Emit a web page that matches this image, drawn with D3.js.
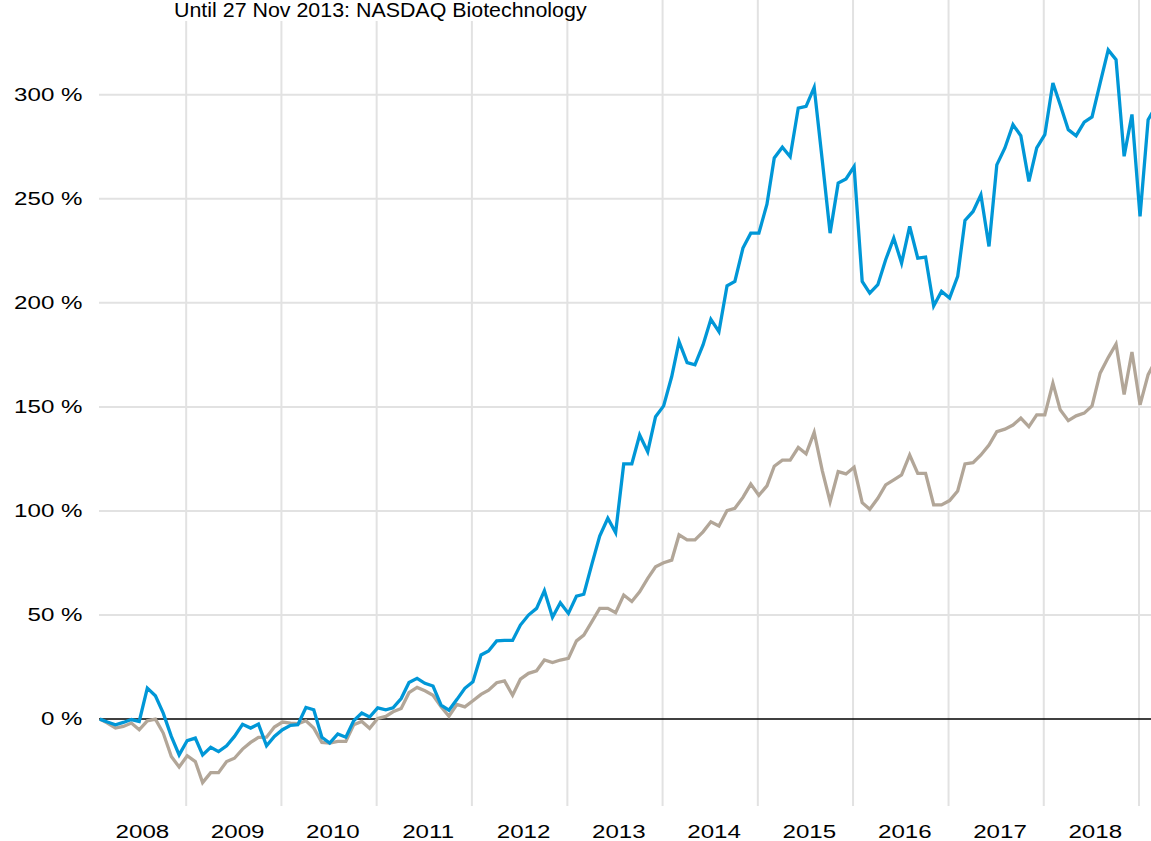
<!DOCTYPE html>
<html lang="en">

<head>
    <meta charset="UTF-8">
    <title>Performance</title>
    <script src="https://cdn.jsdelivr.net/npm/d3@7"></script>
    <style>
        body {
            margin: 0;
            background-color: #fff;
            font-family: "Liberation Sans", Arial, sans-serif;
        }

        svg {
            display: block;
        }

        .grid line {
            stroke: #e2e2e2;
            stroke-width: 2;
        }

        .label {
            fill: #000;
            font-size: 19px;
        }
    </style>
</head>

<body>
    <div id="chart"></div>

    <script>
        // monthly observations (one per month, Feb 2008 .. Mar 2019)
        const months = [
            "2008-02", "2008-03", "2008-04", "2008-05", "2008-06", "2008-07", "2008-08", "2008-09", "2008-10", "2008-11", "2008-12",
            "2009-01", "2009-02", "2009-03", "2009-04", "2009-05", "2009-06", "2009-07", "2009-08", "2009-09", "2009-10", "2009-11", "2009-12",
            "2010-01", "2010-02", "2010-03", "2010-04", "2010-05", "2010-06", "2010-07", "2010-08", "2010-09", "2010-10", "2010-11", "2010-12",
            "2011-01", "2011-02", "2011-03", "2011-04", "2011-05", "2011-06", "2011-07", "2011-08", "2011-09", "2011-10", "2011-11", "2011-12",
            "2012-01", "2012-02", "2012-03", "2012-04", "2012-05", "2012-06", "2012-07", "2012-08", "2012-09", "2012-10", "2012-11", "2012-12",
            "2013-01", "2013-02", "2013-03", "2013-04", "2013-05", "2013-06", "2013-07", "2013-08", "2013-09", "2013-10", "2013-11", "2013-12",
            "2014-01", "2014-02", "2014-03", "2014-04", "2014-05", "2014-06", "2014-07", "2014-08", "2014-09", "2014-10", "2014-11", "2014-12",
            "2015-01", "2015-02", "2015-03", "2015-04", "2015-05", "2015-06", "2015-07", "2015-08", "2015-09", "2015-10", "2015-11", "2015-12",
            "2016-01", "2016-02", "2016-03", "2016-04", "2016-05", "2016-06", "2016-07", "2016-08", "2016-09", "2016-10", "2016-11", "2016-12",
            "2017-01", "2017-02", "2017-03", "2017-04", "2017-05", "2017-06", "2017-07", "2017-08", "2017-09", "2017-10", "2017-11", "2017-12",
            "2018-01", "2018-02", "2018-03", "2018-04", "2018-05", "2018-06", "2018-07", "2018-08", "2018-09", "2018-10", "2018-11", "2018-12",
            "2019-01", "2019-02", "2019-03"
        ];

        // fund (blue), in %
        const fund = [
            0, -1.4, -2.7, -1.6, -0.2, -1.1, 14.9, 11.2, 2.9, -8.3, -17.2,
            -10.3, -9.1, -17.2, -13.5, -15.6, -12.8, -8.3, -2.5, -4.3, -2.4, -12.8, -8.3,
            -5.1, -3.0, -2.7, 5.6, 4.5, -8.7, -11.5, -7.1, -8.7, -0.8, 2.9, 1.0,
            5.4, 4.5, 5.4, 9.9, 17.6, 19.6, 17.2, 15.9, 6.7, 4.3, 9.5, 14.8,
            17.9, 30.8, 32.7, 37.6, 37.8, 37.8, 45.2, 50.0, 53.2, 61.7, 48.9, 55.9,
            50.8, 59.1, 60.0, 74.5, 88.0, 96.5, 89.6, 122.6, 122.6, 136.5, 128.5, 145.3,
            150.5, 164.6, 181.4, 171.3, 170.2, 179.8, 192.1, 186.2, 208.2, 210.3, 226.3, 233.5,
            233.5, 247.4, 269.6, 274.8, 270.2, 293.6, 294.4, 303.5, 268.5, 233.5, 257.5, 259.5,
            265.5, 210.3, 204.7, 208.7, 220.7, 231.1, 219.1, 236.7, 221.5, 222.0, 198.5, 205.5,
            202.3, 212.7, 239.6, 243.9, 251.9, 227.1, 266.3, 274.4, 285.6, 280.3, 258.3, 274.4,
            280.8, 305.6, 295.2, 283.2, 280.3, 286.8, 289.3, 305.6, 321.5, 316.8, 270.4, 290.5,
            241.5, 288.0, 294.0
        ];

        // benchmark (taupe), in %
        const bench = [
            0, -1.9, -4.3, -3.5, -1.9, -5.1, -0.8, 0, -6.7, -18.0, -23.0,
            -17.6, -20.4, -30.5, -25.7, -25.7, -20.4, -18.8, -14.4, -11.2, -8.8, -8.7, -3.8,
            -1.4, -1.9, -2.2, -0.8, -4.3, -11.2, -11.5, -10.7, -10.7, -2.7, -1.1, -4.4,
            0.3, 1.3, 3.5, 5.1, 12.7, 15.2, 13.6, 11.5, 5.9, 1.4, 7.1, 5.9,
            8.8, 11.9, 13.9, 17.5, 18.4, 11.5, 19.2, 22.0, 23.2, 28.4, 27.2, 28.4,
            29.2, 37.6, 40.4, 46.8, 53.2, 53.2, 51.1, 59.6, 56.5, 61.2, 67.6, 73.2,
            75.1, 76.4, 88.5, 86.1, 86.1, 90.0, 94.8, 92.8, 100.2, 101.3, 106.5, 112.9,
            107.5, 112.1, 121.5, 124.4, 124.4, 130.5, 127.5, 137.8, 119.4, 104.5, 118.9, 117.8,
            121.0, 104.0, 100.8, 106.1, 112.5, 114.9, 117.3, 126.9, 118.1, 118.1, 102.9, 102.9,
            105.0, 109.6, 122.6, 123.2, 126.9, 131.7, 138.1, 139.3, 141.3, 144.6, 140.5, 146.2,
            146.2, 161.4, 148.6, 143.4, 145.7, 147.0, 150.5, 166.2, 173.7, 180.2, 156.0, 176.4,
            151.0, 165.5, 172.0
        ];

        const yTicks = [0, 50, 100, 150, 200, 250, 300];
        const years = ["2008", "2009", "2010", "2011", "2012", "2013", "2014", "2015", "2016", "2017", "2018"];
        const note = "Until 27 Nov 2013: NASDAQ Biotechnology";

        const width = 1151, height = 841;
        const parseMonth = d3.timeParse("%Y-%m-%d");

        const data = months.map((m, i) => ({
            date: parseMonth(m + "-05"),
            fund: fund[i],
            bench: bench[i]
        }));

        const svg = d3.select("#chart")
            .append("svg")
            .attr("width", width)
            .attr("height", height);

        const x = d3.scaleTime()
            .domain([new Date(2008, 0, 1), new Date(2019, 0, 1)])
            .range([90.7, 1139]);

        const y = d3.scaleLinear()
            .domain([-41.5, 345.5])
            .range([805.5, 0]);

        // horizontal grid
        svg.append("g")
            .attr("class", "grid")
            .selectAll("line")
            .data(yTicks.filter(d => d !== 0))
            .enter()
            .append("line")
            .attr("x1", 99)
            .attr("x2", width)
            .attr("y1", d => y(d))
            .attr("y2", d => y(d));

        // vertical grid at year starts
        const yearStarts = years.map(d => new Date(+d + 1, 0, 1));
        svg.append("g")
            .attr("class", "grid")
            .selectAll("line")
            .data(yearStarts)
            .enter()
            .append("line")
            .attr("x1", d => x(d))
            .attr("x2", d => x(d))
            .attr("y1", 0)
            .attr("y2", 806);

        // y labels
        svg.append("g")
            .selectAll("text")
            .data(yTicks)
            .enter()
            .append("text")
            .attr("class", "label")
            .attr("text-anchor", "end")
            .attr("transform", d => `translate(82.5,${y(d) + 6}) scale(1.27,1)`)
            .text(d => d + " %");

        // year labels
        svg.append("g")
            .selectAll("text")
            .data(years)
            .enter()
            .append("text")
            .attr("class", "label")
            .attr("text-anchor", "middle")
            .attr("transform", d => `translate(${x(new Date(+d, 6, 2)) + 4},837.5) scale(1.27,1)`)
            .text(d => d);

        // zero line
        svg.append("line")
            .attr("x1", 99)
            .attr("x2", width)
            .attr("y1", y(0))
            .attr("y2", y(0))
            .attr("stroke", "#000")
            .attr("stroke-width", 1.5);

        const lineBench = d3.line()
            .x(d => x(d.date))
            .y(d => y(d.bench));

        const lineFund = d3.line()
            .x(d => x(d.date))
            .y(d => y(d.fund));

        svg.append("path")
            .datum(data)
            .attr("fill", "none")
            .attr("stroke", "#b2a698")
            .attr("stroke-width", 3.3)
            .attr("d", lineBench);

        svg.append("path")
            .datum(data)
            .attr("fill", "none")
            .attr("stroke", "#0097d7")
            .attr("stroke-width", 3.3)
            .attr("d", lineFund);

        // note at the top, on a white patch over the grid
        svg.append("rect")
            .attr("x", 170)
            .attr("y", 0)
            .attr("width", 422)
            .attr("height", 21)
            .attr("fill", "#fff");

        svg.append("text")
            .attr("class", "label")
            .attr("transform", "translate(174,17.3) scale(1.07,1)")
            .style("font-size", "20px")
            .text(note);
    </script>
</body>

</html>
